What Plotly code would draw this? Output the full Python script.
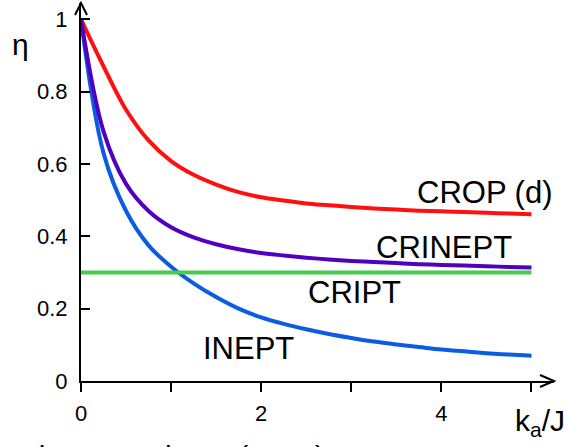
import plotly.graph_objects as go

# Data (x = k_a/J, y = eta)
x_vals = [0, 0.25, 0.5, 0.75, 1, 1.25, 1.5, 1.75, 2, 2.25, 2.5, 2.75, 3, 3.25, 3.5, 3.75, 4, 4.25, 4.5, 4.75, 5]
crop = [1.0, 0.87, 0.75, 0.665, 0.608, 0.57, 0.543, 0.522, 0.508, 0.499, 0.491, 0.486, 0.481, 0.477,
        0.474, 0.471, 0.469, 0.467, 0.465, 0.463, 0.461]
crinept = [1.0, 0.69, 0.545, 0.47, 0.425, 0.397, 0.378, 0.364, 0.354, 0.347, 0.341, 0.336, 0.332, 0.329,
           0.326, 0.323, 0.321, 0.319, 0.317, 0.3155, 0.314]
inept = [1.0, 0.63, 0.47, 0.375, 0.316, 0.27, 0.232, 0.2, 0.176, 0.158, 0.143, 0.13, 0.119, 0.109,
         0.101, 0.094, 0.087, 0.082, 0.077, 0.073, 0.07]
cript_x = [0, 5]
cript = [0.30, 0.30]

x_tickvals = [0, 2, 4]
x_ticktext = ["0", "2", "4"]
x_minor_vals = [1, 3, 5]
y_tickvals = [0, 0.2, 0.4, 0.6, 0.8, 1.0]
y_ticktext = ["0", "0.2", "0.4", "0.6", "0.8", "1"]

FONT = "Liberation Sans, Arial, Helvetica, sans-serif"

fig = go.Figure()
fig.add_trace(go.Scatter(x=x_vals, y=crop, mode="lines", name="CROP (d)",
                         line=dict(color="#ff1010", width=4, shape="spline", smoothing=1.0)))
fig.add_trace(go.Scatter(x=x_vals, y=inept, mode="lines", name="INEPT",
                         line=dict(color="#0a5ce0", width=4, shape="spline", smoothing=1.0)))
fig.add_trace(go.Scatter(x=cript_x, y=cript, mode="lines", name="CRIPT",
                         line=dict(color="#44cc4c", width=4)))
fig.add_trace(go.Scatter(x=x_vals, y=crinept, mode="lines", name="CRINEPT",
                         line=dict(color="#5200c0", width=4, shape="spline", smoothing=1.0)))

labels = [
    ("CROP (d)", 4.48, 0.52),
    ("CRINEPT", 4.03, 0.369),
    ("CRIPT", 3.04, 0.245),
    ("INEPT", 1.86, 0.091),
]
annotations = []
for txt, lx, ly in labels:
    annotations.append(dict(x=lx, y=ly, xref="x", yref="y", text=txt, showarrow=False,
                            font=dict(family=FONT, size=31, color="black"),
                            xanchor="center", yanchor="middle"))

# axis titles
annotations.append(dict(x=-0.128, y=0.89, xref="paper", yref="paper", text="η", showarrow=False,
                        font=dict(family=FONT, size=30, color="black"),
                        xanchor="center", yanchor="middle"))
annotations.append(dict(x=0.97, y=-0.11, xref="paper", yref="paper", text="k<sub>a</sub>/J",
                        showarrow=False, font=dict(family=FONT, size=30, color="black"),
                        xanchor="center", yanchor="middle"))
# citation (mostly cut off at the bottom edge, as in the reference)
annotations.append(dict(x=0.52, y=-0.152, xref="paper", yref="paper",
                        text="Khaneja, Luy, Glaser (2003)", showarrow=False,
                        font=dict(family=FONT, size=30, color="black"),
                        xanchor="right", yanchor="top"))

# arrowheads at the axis ends (pixel-sized chevrons, paper-anchored so they are not clipped)
shapes = [
    dict(type="path", xref="paper", yref="paper", xsizemode="pixel", ysizemode="pixel",
         xanchor=1, yanchor=0, path="M-14,6 L0,0 L-14,-6",
         line=dict(color="black", width=2)),
    dict(type="path", xref="paper", yref="paper", xsizemode="pixel", ysizemode="pixel",
         xanchor=0, yanchor=1, path="M-6,-12 L0,0 L6,-12",
         line=dict(color="black", width=2)),
]

fig.update_layout(
    width=569, height=447,
    margin=dict(l=81, r=15, t=3, b=66),
    paper_bgcolor="white", plot_bgcolor="white",
    showlegend=False,
    annotations=annotations,
    shapes=shapes,
    xaxis=dict(range=[0, 5.25], showline=True, linecolor="black", linewidth=2,
               ticks="outside", ticklen=9, tickwidth=2, tickcolor="black",
               tickvals=x_tickvals, ticktext=x_ticktext, showgrid=False, zeroline=False,
               automargin=False, ticklabelstandoff=3,
               minor=dict(tickvals=x_minor_vals, ticks="outside", ticklen=9, tickwidth=2,
                          tickcolor="black", showgrid=False),
               tickfont=dict(family=FONT, size=22, color="black")),
    yaxis=dict(range=[0, 1.045], showline=True, linecolor="black", linewidth=2,
               ticks="inside", ticklen=9, tickwidth=2, tickcolor="black",
               tickvals=y_tickvals, ticktext=y_ticktext, showgrid=False, zeroline=False,
               automargin=False, ticklabelstandoff=7,
               tickfont=dict(family=FONT, size=22, color="black")),
)

fig.write_html("out.html", config={"displayModeBar": False},
               post_script="document.body.style.margin='0';document.body.style.padding='0';")
